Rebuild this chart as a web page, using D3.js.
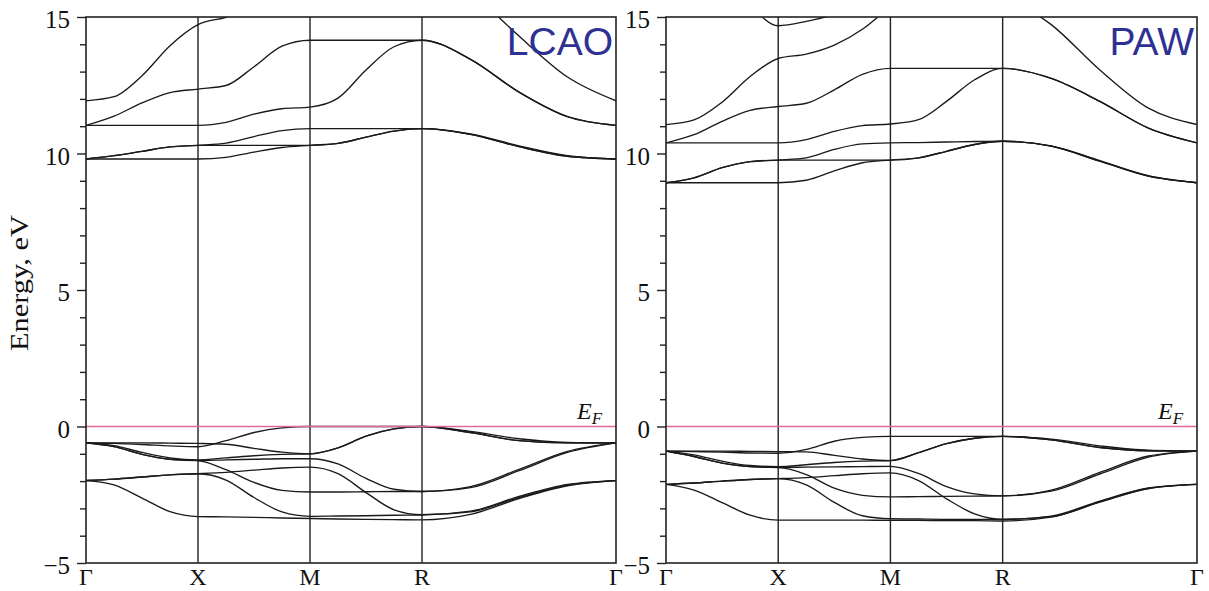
<!DOCTYPE html>
<html>
<head>
<meta charset="utf-8">
<script src="https://cdn.jsdelivr.net/npm/d3@7"></script>
<style>
  body { margin: 0; background: #fff; }
  svg { display: block; }
</style>
</head>
<body>
<svg id="chart" width="1209" height="591"></svg>
<script>
// high symmetry path, distances in units of G-X
var kNodes = [0, 1, 2, 3, 4.732];
var kLabels = ["Γ", "X", "M", "R", "Γ"];
var segFrac = [0, 0.25, 0.5, 0.75];
var yMajor = [-5, 0, 5, 10, 15];
var yMinor = [-4, -3, -2, -1, 1, 2, 3, 4, 6, 7, 8, 9, 11, 12, 13, 14];

// energies (eV) read at G, 1/4, 1/2, 3/4, X, ..., M, ..., R, ..., G
var lcaoC1 = [9.80, 9.80, 9.80, 9.80, 9.80, 9.86, 10.05, 10.22, 10.30, 10.37, 10.60, 10.82, 10.91, 10.70, 10.25, 9.90, 9.80];
var lcaoC2 = [9.80, 9.92, 10.08, 10.24, 10.30, 10.30, 10.30, 10.30, 10.30, 10.37, 10.60, 10.82, 10.91, 10.70, 10.25, 9.90, 9.80];
var lcaoC3 = [9.80, 9.92, 10.08, 10.24, 10.30, 10.38, 10.62, 10.84, 10.91, 10.91, 10.91, 10.91, 10.91, 10.72, 10.28, 9.92, 9.80];
var lcaoC4 = [11.03, 11.03, 11.03, 11.03, 11.03, 11.14, 11.44, 11.64, 11.70, 12.03, 13.06, 13.91, 14.15, 13.45, 12.25, 11.35, 11.03];
var lcaoC5 = [11.03, 11.37, 11.85, 12.23, 12.36, 12.49, 13.18, 13.93, 14.15, 14.15, 14.15, 14.15, 14.15, 13.45, 12.25, 11.35, 11.03];
var lcaoC6 = [11.93, 12.08, 12.85, 13.95, 14.72, 14.99, 15.35, null, null, null, null, null, null, 16.0, 14.30, 12.80, 11.93];

var lcaoV1 = [-0.60, -0.62, -0.66, -0.71, -0.74, -0.52, -0.22, -0.05, 0.00, 0.00, 0.00, 0.00, 0.00, -0.18, -0.45, -0.58, -0.60];
var lcaoV2 = [-0.60, -0.60, -0.60, -0.61, -0.62, -0.65, -0.80, -0.94, -1.00, -0.78, -0.35, -0.09, 0.00, -0.22, -0.52, -0.60, -0.60];
var lcaoV3 = [-0.60, -0.70, -0.95, -1.15, -1.22, -1.15, -1.07, -1.02, -1.00, -0.78, -0.35, -0.09, 0.00, -0.22, -0.52, -0.60, -0.60];
var lcaoV4 = [-0.60, -0.74, -1.02, -1.20, -1.25, -1.22, -1.20, -1.18, -1.18, -1.37, -1.90, -2.30, -2.38, -2.24, -1.62, -0.95, -0.60];
var lcaoV5 = [-0.60, -0.74, -1.02, -1.20, -1.25, -1.58, -2.05, -2.34, -2.40, -2.40, -2.39, -2.38, -2.38, -2.20, -1.57, -0.91, -0.60];
var lcaoV6 = [-1.98, -1.93, -1.85, -1.77, -1.73, -1.68, -1.60, -1.52, -1.49, -1.73, -2.42, -3.05, -3.23, -3.10, -2.56, -2.12, -1.98];
var lcaoV7 = [-1.98, -1.93, -1.85, -1.77, -1.73, -1.96, -2.60, -3.13, -3.29, -3.28, -3.27, -3.25, -3.24, -3.13, -2.60, -2.15, -1.98];
var lcaoV8 = [-1.98, -2.14, -2.62, -3.12, -3.30, -3.31, -3.33, -3.35, -3.37, -3.39, -3.40, -3.41, -3.42, -3.22, -2.64, -2.17, -1.98];

var pawC1 = [8.93, 8.93, 8.93, 8.93, 8.93, 9.02, 9.36, 9.66, 9.76, 9.84, 10.08, 10.33, 10.45, 10.27, 9.72, 9.17, 8.93];
var pawC2 = [8.93, 9.11, 9.48, 9.70, 9.76, 9.76, 9.76, 9.76, 9.76, 9.84, 10.08, 10.33, 10.45, 10.27, 9.72, 9.17, 8.93];
var pawC3 = [8.93, 9.11, 9.48, 9.70, 9.76, 9.84, 10.15, 10.35, 10.39, 10.40, 10.42, 10.44, 10.45, 10.28, 9.74, 9.19, 8.93];
var pawC4 = [10.39, 10.39, 10.39, 10.39, 10.39, 10.51, 10.81, 11.02, 11.08, 11.24, 11.91, 12.70, 13.12, 12.75, 11.91, 10.93, 10.39];
var pawC5 = [10.39, 10.69, 11.18, 11.58, 11.72, 11.84, 12.33, 12.90, 13.12, 13.12, 13.12, 13.12, 13.12, 12.75, 11.91, 10.93, 10.39];
var pawC6 = [11.06, 11.23, 11.88, 12.82, 13.48, 13.64, 13.97, 14.55, 15.40, null, null, null, 15.80, 14.72, 13.06, 11.66, 11.06];
var pawC7 = [null, null, null, 15.50, 14.68, 14.84, 15.10, 15.60, null, null, null, null, null, null, null, null, null];

var pawV1 = [-0.90, -0.92, -0.94, -0.97, -0.98, -0.84, -0.54, -0.40, -0.36, -0.36, -0.36, -0.36, -0.36, -0.46, -0.71, -0.87, -0.90];
var pawV2 = [-0.90, -0.90, -0.90, -0.91, -0.92, -0.93, -1.06, -1.19, -1.25, -0.96, -0.63, -0.43, -0.36, -0.49, -0.77, -0.89, -0.90];
var pawV3 = [-0.90, -1.04, -1.27, -1.43, -1.47, -1.40, -1.32, -1.27, -1.25, -0.96, -0.63, -0.43, -0.36, -0.49, -0.77, -0.89, -0.90];
var pawV4 = [-0.90, -1.10, -1.34, -1.47, -1.50, -1.49, -1.48, -1.47, -1.46, -1.72, -2.20, -2.47, -2.54, -2.37, -1.74, -1.12, -0.90];
var pawV5 = [-0.90, -1.10, -1.34, -1.47, -1.50, -1.76, -2.26, -2.52, -2.58, -2.57, -2.56, -2.55, -2.54, -2.33, -1.68, -1.08, -0.90];
var pawV6 = [-2.12, -2.07, -2.00, -1.94, -1.91, -1.87, -1.80, -1.73, -1.70, -1.98, -2.65, -3.20, -3.40, -3.28, -2.73, -2.25, -2.12];
var pawV7 = [-2.12, -2.07, -2.00, -1.94, -1.91, -2.14, -2.78, -3.27, -3.38, -3.39, -3.40, -3.40, -3.40, -3.30, -2.76, -2.27, -2.12];
var pawV8 = [-2.12, -2.33, -2.79, -3.25, -3.43, -3.43, -3.43, -3.43, -3.44, -3.44, -3.45, -3.45, -3.46, -3.32, -2.77, -2.27, -2.12];

var panels = [
  { name: "LCAO", x0: 86, x1: 616, axisLabel: true,
    bands: [lcaoC1, lcaoC2, lcaoC3, lcaoC4, lcaoC5, lcaoC6, lcaoV1, lcaoV2, lcaoV3, lcaoV4, lcaoV5, lcaoV6, lcaoV7, lcaoV8] },
  { name: "PAW", x0: 666, x1: 1197, axisLabel: false,
    bands: [pawC1, pawC2, pawC3, pawC4, pawC5, pawC6, pawC7, pawV1, pawV2, pawV3, pawV4, pawV5, pawV6, pawV7, pawV8] }
];

// k positions of the samples
var kGrid = [];
for (var s = 0; s < kNodes.length - 1; s++) {
  segFrac.forEach(function(f) { kGrid.push(kNodes[s] + f * (kNodes[s + 1] - kNodes[s])); });
}
kGrid.push(kNodes[kNodes.length - 1]);

var svg = d3.select("#chart");
var serif = "'Liberation Serif', 'Times New Roman', serif";
var plotTop = 17, plotBottom = 563;
var y = d3.scaleLinear().domain([-5, 15]).range([plotBottom, plotTop]);

panels.forEach(function(p, pi) {
  var x = d3.scaleLinear().domain([0, kNodes[kNodes.length - 1]]).range([p.x0, p.x1]);
  var g = svg.append("g");

  var clipId = "clip" + pi;
  svg.append("clipPath").attr("id", clipId)
    .append("rect").attr("x", p.x0).attr("y", plotTop).attr("width", p.x1 - p.x0).attr("height", plotBottom - plotTop);

  // y axis ticks
  var major = d3.axisLeft(y).tickValues(yMajor).tickSize(9).tickPadding(7).tickFormat(d3.format("d"));
  var minor = d3.axisLeft(y).tickValues(yMinor).tickSize(6).tickFormat("");
  [minor, major].forEach(function(ax) {
    var a = g.append("g").attr("transform", "translate(" + p.x0 + ",0)").call(ax);
    a.select(".domain").remove();
    a.selectAll("line").attr("stroke", "#222").attr("stroke-width", 1.4);
    a.selectAll("text").attr("font-family", serif).attr("font-size", 25).attr("fill", "#111").attr("dy", "0.42em");
  });

  // vertical lines at X, M, R
  g.selectAll(".kline").data(kNodes.slice(1, -1)).enter().append("line")
    .attr("x1", function(d) { return x(d); }).attr("x2", function(d) { return x(d); })
    .attr("y1", plotTop).attr("y2", plotBottom)
    .attr("stroke", "#222").attr("stroke-width", 1.4);

  // bands
  var line = d3.line()
    .defined(function(d) { return d[1] != null; })
    .x(function(d) { return x(d[0]); })
    .y(function(d) { return y(d[1]); })
    .curve(d3.curveMonotoneX);

  g.append("g").attr("clip-path", "url(#" + clipId + ")")
    .selectAll("path").data(p.bands).enter().append("path")
    .attr("d", function(b) { return line(b.map(function(v, i) { return [kGrid[i], v]; })); })
    .attr("fill", "none").attr("stroke", "#1a1a1a").attr("stroke-width", 1.35);

  // Fermi level
  g.append("line").attr("x1", p.x0).attr("x2", p.x1).attr("y1", y(0)).attr("y2", y(0))
    .attr("stroke", "#e4679c").attr("stroke-width", 1.6);

  var ef = g.append("text").attr("x", p.x1 - 39).attr("y", y(0) - 8)
    .attr("font-family", serif).attr("font-style", "italic").attr("fill", "#111");
  ef.append("tspan").attr("font-size", 24).text("E");
  ef.append("tspan").attr("font-size", 17).attr("dy", 5).text("F");

  // frame
  g.append("rect").attr("x", p.x0).attr("y", plotTop).attr("width", p.x1 - p.x0).attr("height", plotBottom - plotTop)
    .attr("fill", "none").attr("stroke", "#222").attr("stroke-width", 1.6);

  // k labels
  g.selectAll(".klabel").data(kNodes).enter().append("text")
    .attr("x", function(d) { return x(d); }).attr("y", 585)
    .attr("text-anchor", "middle")
    .attr("font-family", serif).attr("font-size", 24).attr("fill", "#111")
    .text(function(d, i) { return kLabels[i]; });

  // method name
  g.append("text").attr("x", p.x1 - 3).attr("y", 55).attr("text-anchor", "end")
    .attr("font-family", "'Liberation Sans', Arial, sans-serif").attr("font-size", 39)
    .attr("fill", "#2e3192").text(p.name);

  if (p.axisLabel) {
    svg.append("text").attr("transform", "translate(28,283) rotate(-90)")
      .attr("text-anchor", "middle")
      .attr("font-family", serif).attr("font-size", 25).attr("fill", "#111")
      .attr("textLength", 136).attr("lengthAdjust", "spacingAndGlyphs")
      .text("Energy, eV");
  }
});
</script>
</body>
</html>
